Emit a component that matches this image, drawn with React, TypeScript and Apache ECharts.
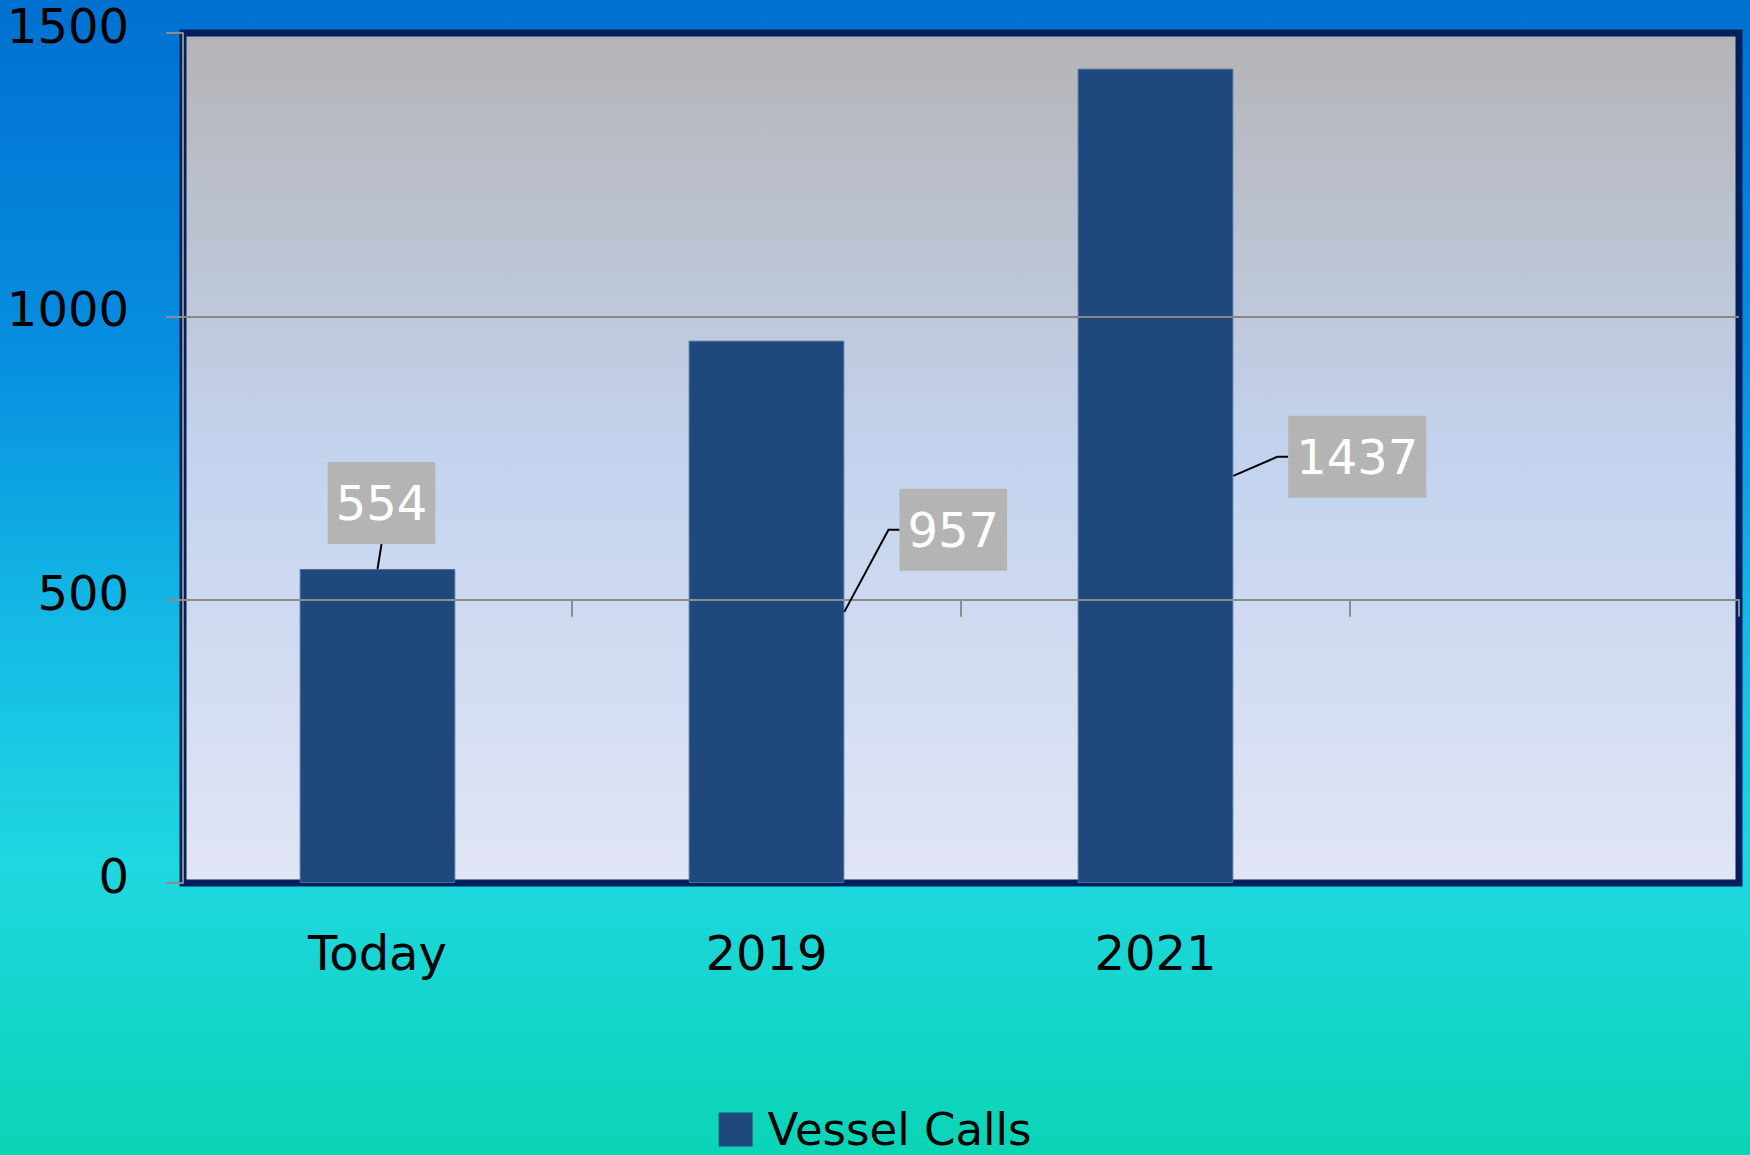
import React, { useEffect, useRef } from "react";
import * as echarts from "echarts";

// ---- data ----
const CATEGORIES = ["Today", "2019", "2021", ""];
const VESSEL_CALLS = [554, 957, 1437];
const Y_TICKS = [0, 500, 1000, 1500];
const SERIES_NAME = "Vessel Calls";
const AXIS_CROSS_VALUE = 500;

// ---- layout / style ----
const W = 1750;
const H = 1155;
const GRID_LEFT = 183;
const GRID_TOP = 33;
const GRID_RIGHT_X = 1739;
const GRID_BOTTOM_Y = 883;
const GRID_H = GRID_BOTTOM_Y - GRID_TOP;
const BAR_RATIO = 0.4;
const FONT = '"DejaVu Sans", Verdana, sans-serif';
const LABEL_FONT_SIZE = 48;
const LABEL_PAD = [12, 8, 12, 8];
const LABEL_LINE_H = 58;
const LABEL_LAYOUT = [
  { anchor: "top", dx: 4, dy: -66, elbow: 0 },
  { anchor: "right", dx: 109, dy: -82, elbow: 11 },
  { anchor: "right", dx: 124, dy: -19, elbow: 11 },
];

function measure(text: string): number {
  const c = document.createElement("canvas").getContext("2d");
  if (!c) return text.length * LABEL_FONT_SIZE * 0.636;
  c.font = `${LABEL_FONT_SIZE}px ${FONT}`;
  return c.measureText(text).width;
}

export default function App() {
  const ref = useRef<HTMLDivElement>(null);
  useEffect(() => {
    if (!ref.current) return;
    document.body.style.margin = "0";
    const chart = echarts.init(ref.current, undefined, { renderer: "svg" });
    const yMin = Y_TICKS[0];
    const yMax = Y_TICKS[Y_TICKS.length - 1];
    const yInterval = Y_TICKS[1] - Y_TICKS[0];
    const crossOffset = -(GRID_H * (AXIS_CROSS_VALUE - yMin)) / (yMax - yMin);

    const option: any = {
      animation: false,
      backgroundColor: new echarts.graphic.LinearGradient(0, 0, 0, 1, [
        { offset: 0, color: "#0070D0" },
        { offset: 0.3, color: "#078DDF" },
        { offset: 0.55, color: "#14BBE5" },
        { offset: 0.75, color: "#1FD7E0" },
        { offset: 1, color: "#0AD4B6" },
      ]),
      textStyle: { fontFamily: FONT },
      grid: {
        left: GRID_LEFT,
        top: GRID_TOP,
        right: W - GRID_RIGHT_X,
        bottom: H - GRID_BOTTOM_Y,
        containLabel: false,
        outerBoundsMode: "none",
        show: true,
        backgroundColor: new echarts.graphic.LinearGradient(0, 0, 0, 1, [
          { offset: 0, color: "#B4B4B6" },
          { offset: 0.5, color: "#C3D3EE" },
          { offset: 1, color: "#E1E5F4" },
        ]),
        borderColor: "#001F5F",
        borderWidth: 7,
      },
      legend: {
        data: [SERIES_NAME],
        left: "center",
        top: 1102,
        padding: 5,
        icon: "rect",
        itemWidth: 34,
        itemHeight: 34,
        itemStyle: { borderWidth: 0 },
        textStyle: {
          fontFamily: FONT,
          fontSize: 45,
          color: "#000",
          padding: [0, 0, 16, 10],
        },
      },
      xAxis: [
        {
          type: "category",
          data: CATEGORIES,
          position: "bottom",
          axisLine: { show: false },
          axisTick: { show: false },
          splitLine: { show: false },
          axisLabel: {
            fontFamily: FONT,
            fontSize: 48,
            color: "#000",
            margin: 46,
            interval: 0,
          },
        },
        {
          type: "category",
          data: CATEGORIES,
          position: "bottom",
          offset: crossOffset,
          z: 5,
          axisLine: { show: true, lineStyle: { color: "#8C8C8C", width: 2 } },
          axisTick: { show: true, length: 17, lineStyle: { color: "#8C8C8C", width: 2 } },
          axisLabel: { show: false },
          splitLine: { show: false },
        },
      ],
      yAxis: {
        type: "value",
        min: yMin,
        max: yMax,
        interval: yInterval,
        z: 4,
        axisLine: { show: true, lineStyle: { color: "#8C8C8C", width: 2 } },
        axisTick: { show: true, length: 17, lineStyle: { color: "#8C8C8C", width: 2 } },
        axisLabel: {
          fontFamily: FONT,
          fontSize: 48,
          color: "#000",
          margin: 54,
          formatter: (v: number) => String(v),
          verticalAlign: "bottom",
          lineHeight: 14,
        },
        splitLine: {
          show: true,
          lineStyle: {
            color: ["rgba(0,0,0,0)", "#888888", "#888888", "rgba(0,0,0,0)"],
            width: 2,
          },
        },
      },
      series: [
        {
          name: SERIES_NAME,
          type: "bar",
          xAxisIndex: 0,
          data: VESSEL_CALLS,
          barWidth: `${BAR_RATIO * 100}%`,
          itemStyle: { color: "#1F497D", borderColor: "#4A6C9C", borderWidth: 1 },
          z: 2,
        },
        {
          name: "labels",
          type: "custom",
          xAxisIndex: 0,
          z: 10,
          data: VESSEL_CALLS.map((v, i) => [i, v]),
          renderItem: (params: any, api: any) => {
            const i = params.dataIndex;
            const cat = api.value(0);
            const v = api.value(1);
            const top = api.coord([cat, v]);
            const base = api.coord([cat, 0]);
            const bw = api.size([1, 0])[0] * BAR_RATIO;
            const L = LABEL_LAYOUT[i] || LABEL_LAYOUT[0];
            const text = String(v);
            const boxW = measure(text) + LABEL_PAD[1] + LABEL_PAD[3];
            const boxH = LABEL_LINE_H + LABEL_PAD[0] + LABEL_PAD[2];
            let anchor: number[];
            if (L.anchor === "top") anchor = [top[0], top[1]];
            else anchor = [top[0] + bw / 2, (top[1] + base[1]) / 2];
            const cx = anchor[0] + L.dx;
            const cy = anchor[1] + L.dy;
            let pts: number[][];
            if (L.anchor === "top") {
              pts = [anchor, [cx, cy + boxH / 2]];
            } else {
              const left = cx - boxW / 2;
              pts = [anchor, [left - L.elbow, cy], [left, cy]];
            }
            return {
              type: "group",
              children: [
                {
                  type: "polyline",
                  shape: { points: pts },
                  style: { stroke: "#000", lineWidth: 2, fill: null },
                },
                {
                  type: "text",
                  x: cx,
                  y: cy,
                  style: {
                    text,
                    fill: "#FFFFFF",
                    font: `${LABEL_FONT_SIZE}px ${FONT}`,
                    align: "center",
                    verticalAlign: "middle",
                    lineHeight: LABEL_LINE_H,
                    backgroundColor: "#B4B4B4",
                    padding: LABEL_PAD,
                  },
                },
              ],
            };
          },
        },
      ],
    };
    chart.setOption(option);
    return () => chart.dispose();
  }, []);
  return (
    <div
      ref={ref}
      style={{ position: "absolute", left: 0, top: 0, width: W, height: H }}
    />
  );
}
